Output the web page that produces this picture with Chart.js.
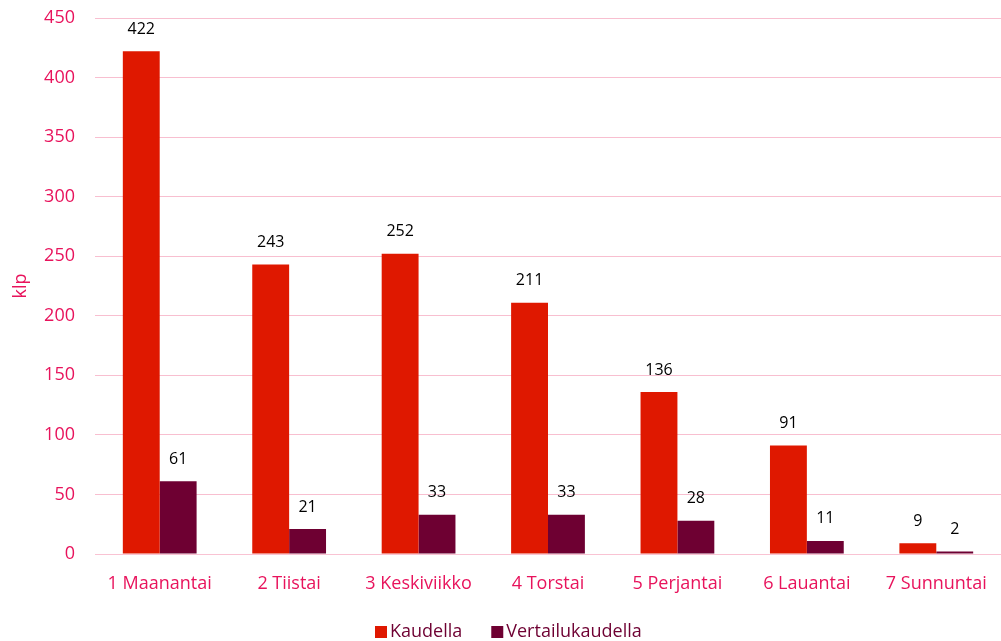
<!DOCTYPE html>
<html><head><meta charset="utf-8">
<script src="https://cdn.jsdelivr.net/npm/chart.js@4"></script>
<style>html,body{margin:0;padding:0;background:#fff}#wrap{width:1001px;height:641px}</style>
</head><body><div id="wrap"><canvas id="c" width="1001" height="641"></canvas></div>
<script>
const categories = ["1 Maanantai","2 Tiistai","3 Keskiviikko","4 Torstai","5 Perjantai","6 Lauantai","7 Sunnuntai"];
const kaudella = [422,243,252,211,136,91,9];
const vertailukaudella = [61,21,33,33,28,11,2];
const yTicks = [0,50,100,150,200,250,300,350,400,450];
const FONT = "'Open Sans', 'Noto Sans', sans-serif";
const labelPlugin = {
  id:'lbl',
  afterDatasetsDraw(chart){
    const ctx = chart.ctx;
    ctx.save();
    ctx.font = "16px " + FONT;
    ctx.fillStyle = "#000";
    ctx.textAlign = "center";
    ctx.textBaseline = "middle";
    chart.data.datasets.forEach((ds,i)=>{
      chart.getDatasetMeta(i).data.forEach((bar,j)=>{
        ctx.fillText(String(ds.data[j]), bar.x, bar.y - 22);
      });
    });
    // legend
    ctx.font = "18px " + FONT;
    ctx.textAlign = "left";
    let x = 375; const y = 632;
    chart.data.datasets.forEach((ds)=>{
      ctx.fillStyle = ds.backgroundColor;
      ctx.fillRect(x, y-6, 12, 12);
      ctx.fillStyle = '#6E0032';
      ctx.fillText(ds.label, x+15, y);
      x += 15 + ctx.measureText(ds.label).width + 29;
    });
    ctx.restore();
  }
};
new Chart(document.getElementById('c'),{
  type:'bar',
  data:{labels:categories,datasets:[
    {label:'Kaudella',data:kaudella,backgroundColor:'#DF1800',categoryPercentage:0.57,barPercentage:1},
    {label:'Vertailukaudella',data:vertailukaudella,backgroundColor:'#6E0032',categoryPercentage:0.57,barPercentage:1}
  ]},
  options:{
    responsive:false,animation:false,
    layout:{padding:{top:18,right:-4,left:0,bottom:0},autoPadding:false},
    plugins:{
      tooltip:{enabled:false},
      legend:{display:false}
    },
    scales:{
      x:{grid:{display:false},border:{color:'#F9C3D3'},ticks:{color:'#E8135C',font:{family:FONT,size:18},padding:11},
        afterFit(s){s.height=87;s.paddingLeft=0;s.paddingRight=0;}},
      y:{min:0,max:450,afterBuildTicks(s){s.ticks=yTicks.map(v=>({value:v}));},
        afterFit(s){s.width=95;s.paddingTop=0;s.paddingBottom=0;},
        grid:{color:'#F8BFD0',drawTicks:false,lineWidth:1},border:{display:false},
        ticks:{color:'#E8135C',font:{family:FONT,size:18},padding:20},
        title:{display:true,text:'klp',color:'#E8135C',font:{family:FONT,size:18},padding:{top:10,bottom:0}}}
    }
  },
  plugins:[labelPlugin]
});
</script></body></html>
